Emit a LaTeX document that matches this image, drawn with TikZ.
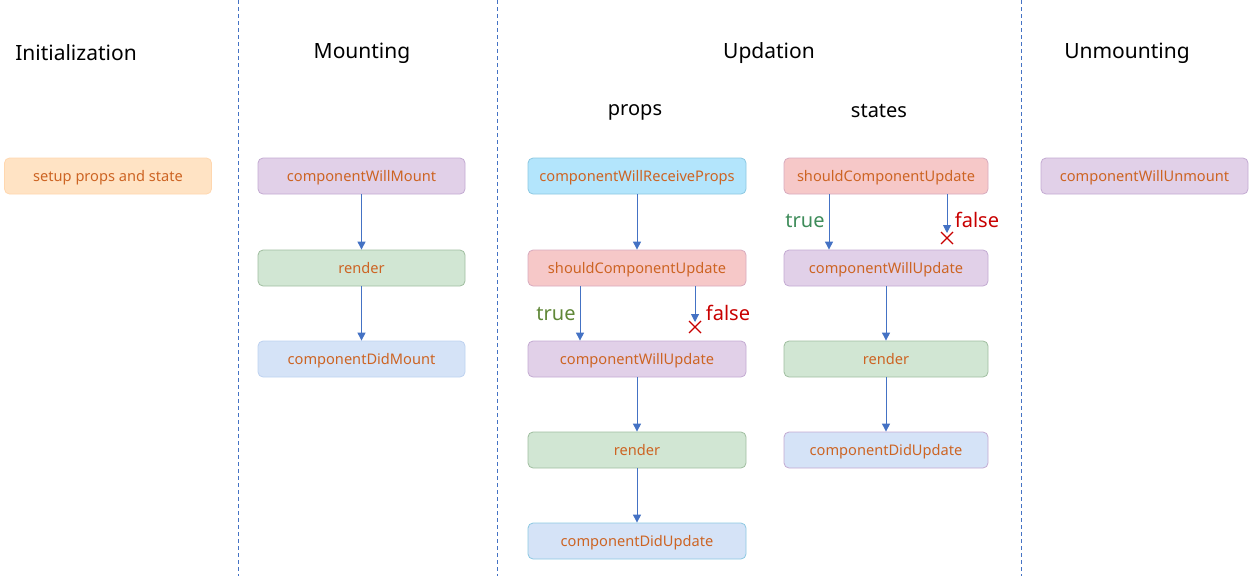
\documentclass[tikz,border=0pt]{standalone}
\usepackage{fontspec}
\setmainfont{Noto Sans}
\usetikzlibrary{arrows.meta}
\definecolor{txt}{RGB}{205,100,35}
\definecolor{peachF}{RGB}{255,227,196}
\definecolor{peachB}{RGB}{255,215,175}
\definecolor{purpF}{RGB}{225,208,232}
\definecolor{purpB}{RGB}{195,170,210}
\definecolor{grnF}{RGB}{209,230,211}
\definecolor{grnB}{RGB}{160,190,160}
\definecolor{bluF}{RGB}{213,227,247}
\definecolor{bluB}{RGB}{190,210,240}
\definecolor{cyaF}{RGB}{179,229,252}
\definecolor{cyaB}{RGB}{140,200,225}
\definecolor{pnkF}{RGB}{246,200,200}
\definecolor{pnkB}{RGB}{215,170,190}
\definecolor{arr}{RGB}{68,114,196}
\definecolor{trueA}{RGB}{95,135,55}
\definecolor{trueB}{RGB}{62,140,90}
\definecolor{falseC}{RGB}{200,0,0}
\tikzset{
  box/.style={draw, rounded corners=5pt, line width=0.8pt, minimum height=36pt,
    inner sep=0pt, text height=11pt, text depth=0pt, text=txt,
    font=\fontsize{14.6}{16}\selectfont},
  wA/.style={minimum width=207pt},
  wB/.style={minimum width=218pt},
  wC/.style={minimum width=204pt},
  head/.style={font=\fontsize{21}{24}\selectfont, text=black},
  sub/.style={font=\fontsize{20}{24}\selectfont, text=black},
  conn/.style={draw=arr, line width=1pt, -{Triangle[length=8pt,width=8pt]}},
  sep/.style={draw=arr, line width=0.8pt, dash pattern=on 4pt off 3pt},
  lbl/.style={font=\fontsize{20}{24}\selectfont}
}
\begin{document}
\begin{tikzpicture}[x=1pt,y=-1pt]
\useasboundingbox (0,0) rectangle (1249,576);
% separators
\foreach \xx/\nm in {238/s1,497/s2,1021/s3}{
  \coordinate (\nm t) at (\xx,0);
  \coordinate (\nm b) at (\xx,576);
  \draw[sep] (\nm t) -- (\nm b);
}
% headings
\node[head] (hInit) at (76,53) {Initialization};
\node[head] (hMount) at (362,53) {Mounting};
\node[head] (hUpd) at (769,53) {Updation};
\node[head] (hUnm) at (1127,53) {Unmounting};
\node[sub] (hProps) at (635,112) {props};
\node[sub] (hStates) at (879,111) {states};
% initialization
\node[box, wA, fill=peachF, draw=peachB] (setup) at (108,176) {setup props and state};
% mounting
\node[box, wA, fill=purpF, draw=purpB] (cwm) at (361.5,176) {componentWillMount};
\node[box, wA, fill=grnF, draw=grnB] (mrender) at (361.5,268) {render};
\node[box, wA, fill=bluF, draw=bluB] (cdm) at (361.5,359) {componentDidMount};
% props
\node[box, wB, fill=cyaF, draw=cyaB] (cwrp) at (637,176) {componentWillReceiveProps};
\node[box, wB, fill=pnkF, draw=pnkB] (pscu) at (637,268) {shouldComponentUpdate};
\node[box, wB, fill=purpF, draw=purpB] (pcwu) at (637,359) {componentWillUpdate};
\node[box, wB, fill=grnF, draw=grnB] (prender) at (637,450) {render};
\node[box, wB, fill=bluF, draw=cyaB] (pcdu) at (637,541) {componentDidUpdate};
% states
\node[box, wC, fill=pnkF, draw=pnkB] (sscu) at (886,176) {shouldComponentUpdate};
\node[box, wC, fill=purpF, draw=purpB] (scwu) at (886,268) {componentWillUpdate};
\node[box, wC, fill=grnF, draw=grnB] (srender) at (886,359) {render};
\node[box, wC, fill=bluF, draw=purpB] (scdu) at (886,450) {componentDidUpdate};
% unmounting
\node[box, wA, fill=purpF, draw=purpB] (cwu) at (1144.5,176) {componentWillUnmount};
% mounting arrows
\draw[conn] (cwm) -- (mrender);
\draw[conn] (mrender) -- (cdm);
% props arrows
\draw[conn] (cwrp) -- (pscu);
\draw[conn] (pscu.south -| 580,0) -- (pcwu.north -| 580,0);
\coordinate (pfx) at (695,327);
\draw[conn] (pscu.south -| pfx) -- (695,322);
\draw[falseC, line width=1.2pt] (pfx) ++(-6,-6) -- ++(12,12) (pfx) ++(6,-6) -- ++(-12,12);
\node[lbl, text=trueA] (ptrue) at (556,314) {true};
\node[lbl, text=falseC] (pfalse) at (728,313) {false};
\draw[conn] (pcwu) -- (prender);
\draw[conn] (prender) -- (pcdu);
% states arrows
\draw[conn] (sscu.south -| 829,0) -- (scwu.north -| 829,0);
\coordinate (sfx) at (947,238);
\draw[conn] (sscu.south -| sfx) -- (947,233);
\draw[falseC, line width=1.2pt] (sfx) ++(-6,-6) -- ++(12,12) (sfx) ++(6,-6) -- ++(-12,12);
\node[lbl, text=trueB] (strue) at (805,221) {true};
\node[lbl, text=falseC] (sfalse) at (977,220) {false};
\draw[conn] (scwu) -- (srender);
\draw[conn] (srender) -- (scdu);
\end{tikzpicture}
\end{document}
